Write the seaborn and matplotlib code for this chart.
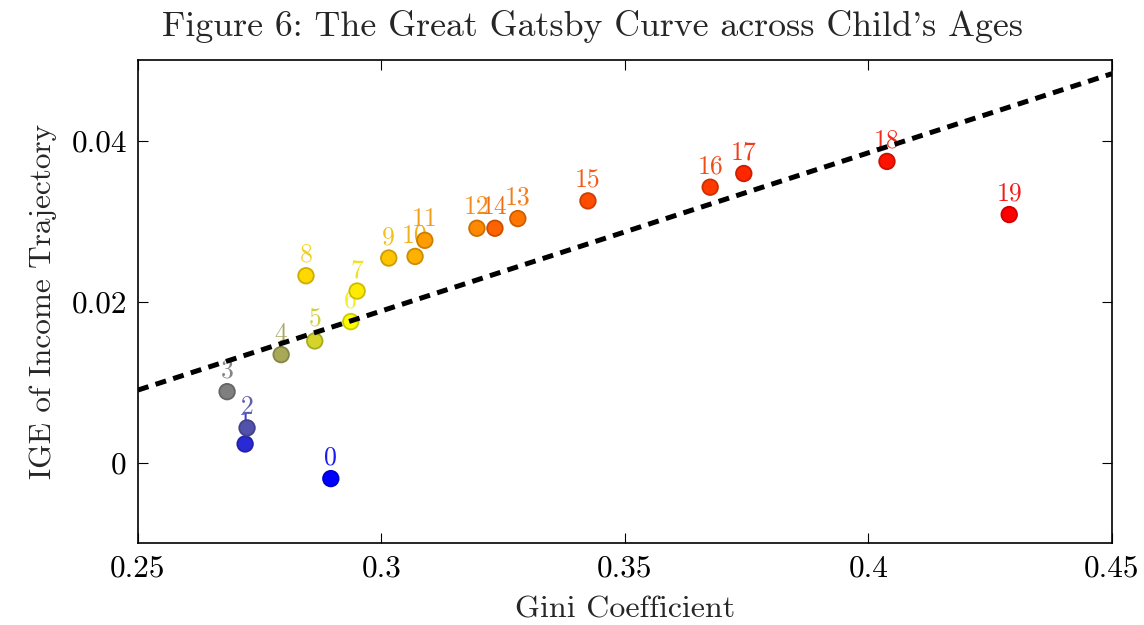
import numpy as np
import pandas as pd
import matplotlib
matplotlib.use("Agg")
import matplotlib.pyplot as plt
import seaborn as sns
from matplotlib.colors import LinearSegmentedColormap, to_rgb

# ---- data ----
ages = list(range(20))
gini = [0.2896, 0.2720, 0.2724, 0.2683, 0.2794, 0.2863, 0.2937, 0.2950, 0.2845, 0.3015,
        0.3069, 0.3089, 0.3196, 0.3280, 0.3233, 0.3424, 0.3675, 0.3744, 0.4038, 0.4289]
ige = [-0.0020, 0.0023, 0.0043, 0.0088, 0.0134, 0.0151, 0.0175, 0.0213, 0.0232, 0.0254,
       0.0256, 0.0276, 0.0291, 0.0303, 0.0291, 0.0325, 0.0342, 0.0359, 0.0374, 0.0308]
fit_x = [0.25, 0.45]
fit_y = [0.0090, 0.0483]
x_ticks = [0.25, 0.30, 0.35, 0.40, 0.45]
x_ticklabels = ["0.25", "0.3", "0.35", "0.4", "0.45"]
y_ticks = [0.0, 0.02, 0.04]
y_ticklabels = ["0", "0.02", "0.04"]

df = pd.DataFrame({"age": ages, "gini": gini, "ige": ige})

sns.set_theme(style="white")
plt.rcParams["font.family"] = ["cmr10", "DejaVu Serif"]
plt.rcParams["axes.formatter.use_mathtext"] = True
plt.rcParams["axes.unicode_minus"] = False

cmap = LinearSegmentedColormap.from_list(
    "gatsby", [(0.0, "#0000ff"), (6 / 19, "#ffff00"), (1.0, "#ff0000")])
colors = [cmap(a / 19) for a in ages]
palette = {a: c for a, c in zip(ages, colors)}
edges = [tuple(np.array(to_rgb(c)) * 0.8) for c in colors]
label_colors = [tuple(np.array(to_rgb(c)) * 0.85 + 0.1) for c in colors]

fig = plt.figure(figsize=(11.44, 6.25), dpi=100)
ax = fig.add_axes([0.1206, 0.1312, 0.8514, 0.7728])

for a, gx, gy, c in zip(ages, gini, ige, label_colors):
    ax.annotate(str(a), (gx, gy), xytext=(0, 6.5), textcoords="offset points",
                ha="center", va="bottom", fontsize=18.5, color=c, zorder=2)

sns.scatterplot(data=df, x="gini", y="ige", hue="age", palette=palette, s=125,
                edgecolor=edges, linewidth=1.3, legend=False, ax=ax, zorder=3)

sns.lineplot(x=fit_x, y=fit_y, ax=ax, color="black", linewidth=3.6,
             dashes=False, zorder=4)
ax.lines[-1].set_dashes((2.2, 1.5))

ax.set_xlim(0.25, 0.45)
ax.set_ylim(-0.01, 0.05)
ax.set_xticks(x_ticks)
ax.set_xticklabels(x_ticklabels)
ax.set_yticks(y_ticks)
ax.set_yticklabels(y_ticklabels)
ax.tick_params(direction="in", length=7, width=0.8, colors="black",
               labelsize=22.5, top=True, right=True, bottom=True, left=True, pad=8)
for s in ax.spines.values():
    s.set_color("black")
    s.set_linewidth(1.2)

ax.set_xlabel("Gini Coefficient", fontsize=23, labelpad=10)
ax.set_ylabel("IGE of Income Trajectory", fontsize=22.5, labelpad=10)
fig.text(0.5175, 0.957, "Figure 6: The Great Gatsby Curve across Child's Ages",
         ha="center", va="center", fontsize=25.8)

fig.savefig("out.png", dpi=100, facecolor="white")
